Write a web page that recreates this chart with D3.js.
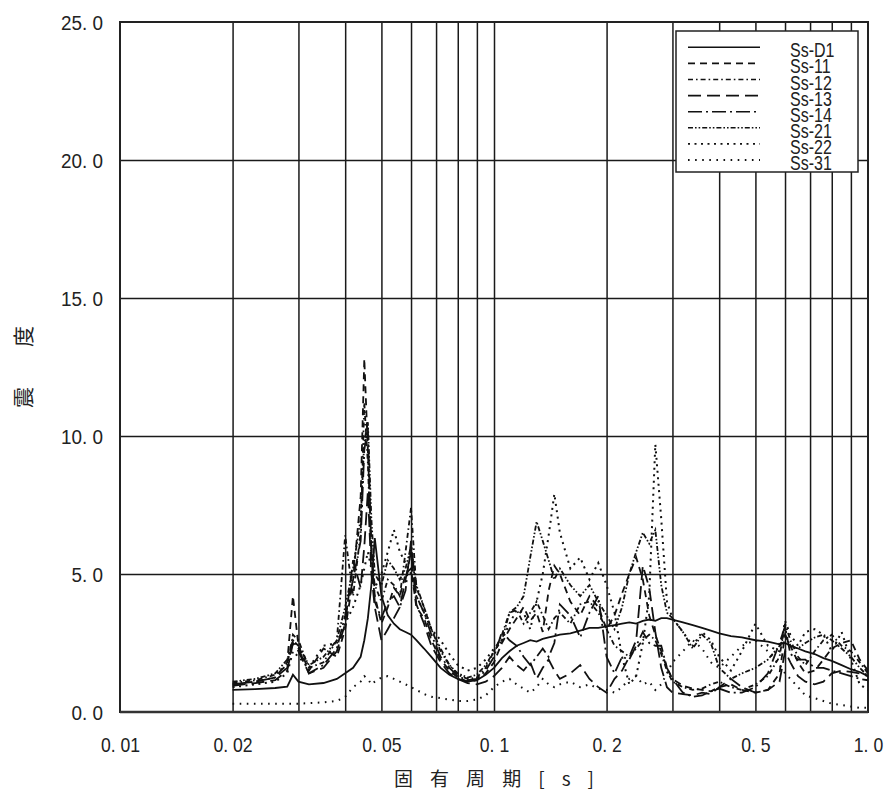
<!DOCTYPE html>
<html><head><meta charset="utf-8">
<script src="https://cdn.jsdelivr.net/npm/d3@7"></script>
<style>body{margin:0;background:#fff}</style>
</head><body>
<svg id="c" width="888" height="794"></svg>
<script>
// ---- data ----
const periods = [0.020,0.023,0.026,0.028,0.029,0.030,0.032,0.035,0.038,0.040,
  0.042,0.044,0.045,0.046,0.047,0.048,0.050,0.052,0.054,0.056,
  0.058,0.060,0.062,0.065,0.068,0.072,0.076,0.080,0.085,0.090,
  0.095,0.100,0.105,0.110,0.115,0.120,0.125,0.130,0.135,0.140,
  0.145,0.150,0.160,0.170,0.180,0.190,0.200,0.210,0.220,0.230,
  0.240,0.250,0.260,0.270,0.280,0.290,0.300,0.320,0.340,0.360,
  0.380,0.400,0.430,0.460,0.500,0.540,0.580,0.600,0.620,0.650,
  0.680,0.720,0.760,0.800,0.850,0.900,0.950,1.000];

const ssD1 = [0.80,0.83,0.87,0.92,1.35,1.10,1.00,1.05,1.20,1.40,
  1.60,2.00,2.60,3.40,4.60,6.30,4.20,3.50,3.20,3.00,
  2.90,2.80,2.60,2.30,2.00,1.60,1.35,1.20,1.10,1.15,
  1.35,1.60,1.95,2.20,2.40,2.50,2.60,2.55,2.65,2.70,
  2.75,2.80,2.85,2.95,3.05,3.05,3.10,3.15,3.20,3.25,
  3.20,3.30,3.35,3.30,3.40,3.40,3.35,3.25,3.15,3.05,
  2.95,2.85,2.75,2.70,2.60,2.55,2.45,2.50,2.40,2.30,
  2.20,2.10,1.95,1.85,1.70,1.55,1.45,1.30];

const ss11 = [1.00,1.10,1.25,1.80,4.20,2.40,1.50,2.30,2.00,3.00,
  4.80,7.80,12.8,9.50,6.00,4.20,3.20,3.80,4.50,4.20,
  5.00,5.20,3.80,3.40,2.60,1.90,1.50,1.25,1.10,1.15,
  1.40,1.80,2.50,3.00,3.40,3.80,3.30,3.60,2.90,4.40,
  5.30,5.00,4.00,3.50,4.20,3.80,3.00,3.50,4.30,5.00,
  5.60,4.80,3.50,2.80,2.20,1.60,1.20,0.95,0.85,0.80,
  0.75,0.90,1.00,0.80,0.70,0.80,1.40,2.80,2.40,1.80,
  1.40,1.50,1.90,2.30,2.50,2.60,1.90,1.50];

const ss12 = [1.05,1.15,1.35,1.70,2.80,2.60,1.60,1.80,2.60,6.40,
  4.20,6.50,11.2,9.00,5.50,4.60,4.00,4.80,4.60,4.20,
  5.80,7.40,4.50,3.80,3.00,2.30,1.70,1.35,1.20,1.25,
  1.60,2.20,2.80,3.60,3.70,3.20,3.60,4.00,3.50,3.00,
  3.40,3.60,3.20,3.90,4.00,3.60,3.00,2.40,2.20,2.00,
  2.30,2.60,2.80,2.60,2.10,1.50,1.10,0.90,0.80,0.85,
  1.00,1.10,0.90,0.80,1.00,1.30,2.00,3.20,2.60,2.00,
  1.70,2.20,2.60,2.80,2.40,2.20,1.80,1.40];

const ss13 = [0.95,1.05,1.15,1.50,2.50,2.20,1.40,1.60,2.20,3.20,
  5.50,4.50,6.00,8.00,5.00,3.80,2.60,3.00,3.40,3.80,
  4.80,5.80,3.90,3.20,2.40,1.80,1.40,1.20,1.05,1.00,
  1.10,1.30,1.60,2.00,1.70,1.50,1.80,1.20,1.60,1.90,
  1.50,1.20,1.40,1.70,1.20,0.90,0.70,1.20,1.50,2.00,
  2.60,5.30,4.50,2.90,1.60,0.90,0.70,0.65,0.60,0.70,
  0.65,0.90,1.20,0.90,0.70,0.80,1.10,2.20,1.80,1.30,
  1.10,1.00,1.10,1.40,1.50,1.45,1.40,1.30];

const ss14 = [1.00,1.10,1.25,1.60,2.60,2.30,1.40,1.70,2.30,3.50,
  4.80,6.20,9.50,10.3,5.80,4.00,3.40,4.00,4.20,3.80,
  4.40,6.20,4.20,3.60,2.80,2.00,1.60,1.30,1.15,1.20,
  1.50,2.00,2.90,2.60,2.40,2.00,1.70,2.00,2.30,2.00,
  2.50,3.90,3.50,2.70,3.60,4.20,2.00,1.40,2.00,1.90,
  2.40,2.90,2.50,2.40,2.40,1.60,1.20,0.70,0.55,0.60,
  0.75,0.85,0.70,0.70,0.90,1.40,2.50,3.10,2.10,1.90,
  1.90,1.60,1.60,1.50,1.40,1.30,1.20,1.15];

const ss21 = [1.10,1.20,1.40,1.90,2.60,2.40,1.70,2.00,2.60,3.80,
  5.20,7.00,9.80,10.5,7.00,5.00,4.60,5.50,5.20,4.80,
  5.20,6.00,4.60,3.80,3.00,2.20,1.70,1.40,1.25,1.35,
  1.70,2.20,2.60,3.60,3.80,4.20,5.60,6.90,6.20,5.50,
  4.80,5.20,4.60,4.20,4.60,4.00,3.50,3.00,3.80,5.00,
  5.80,6.50,6.10,6.60,4.60,3.60,3.40,2.90,2.30,2.80,
  2.50,1.60,1.20,1.40,1.60,1.90,2.40,2.80,2.40,2.30,
  2.50,2.70,2.80,2.60,2.30,2.00,1.60,1.30];

const ss22 = [0.90,1.00,1.10,1.40,2.20,2.00,1.60,2.40,2.50,3.20,
  3.80,4.60,5.20,5.80,5.20,4.50,5.00,5.80,6.60,5.80,
  5.40,5.00,4.20,3.60,3.00,2.60,2.10,1.70,1.50,1.60,
  1.90,2.30,2.60,3.20,3.70,3.60,3.00,4.00,5.00,6.40,
  7.90,6.50,5.20,5.60,4.80,5.40,4.60,3.60,2.00,1.00,
  1.30,2.50,4.20,9.70,7.00,4.00,3.40,2.90,2.40,2.90,
  2.60,2.00,1.50,2.20,3.20,2.40,2.20,3.30,2.80,2.40,
  2.90,3.00,2.80,2.20,2.90,1.90,1.00,0.80];

const ss31 = [0.30,0.30,0.30,0.30,0.30,0.30,0.32,0.35,0.40,0.55,
  0.90,1.10,1.30,1.20,1.00,1.10,1.25,1.30,1.20,1.10,
  1.00,0.90,0.80,0.65,0.55,0.50,0.45,0.40,0.40,0.45,
  0.60,0.90,1.10,1.20,1.00,0.85,0.70,0.90,1.20,1.00,
  0.90,1.00,1.10,0.90,1.00,0.85,0.80,0.70,0.90,1.20,
  1.30,1.00,1.10,0.80,1.00,1.40,1.80,2.20,2.60,2.30,
  1.80,1.60,2.00,2.40,2.60,2.20,1.70,1.40,1.20,0.90,
  0.60,0.50,0.40,0.30,0.25,0.20,0.15,0.15];

const seriesNames = ["Ss-D1","Ss-11","Ss-12","Ss-13","Ss-14","Ss-21","Ss-22","Ss-31"];
const seriesValues = [ssD1, ss11, ss12, ss13, ss14, ss21, ss22, ss31];

const xTickValues = [0.01,0.02,0.05,0.1,0.2,0.5,1.0];
const xTickLabels = ["0. 01","0. 02","0. 05","0. 1","0. 2","0. 5","1. 0"];
const xGridValues = [0.02,0.03,0.04,0.05,0.06,0.07,0.08,0.09,0.1,0.2,0.3,0.4,0.5,0.6,0.7,0.8,0.9];
const yTickValues = [0,5,10,15,20,25];
const yTickLabels = ["0. 0","5. 0","10. 0","15. 0","20. 0","25. 0"];
const xTitle = "固 有 周 期 [ s ]";
const yTitle = "震　度";

// ---- styles ----
const dashes = ["none","7,5","5,3,1.6,3","13,6","14,4,2,4","5,2,1.6,2,1.6,2","2,4.5","1.6,5.5"];

// ---- chart ----
const L = 120, R = 868, T = 22, B = 712;
const svg = d3.select("#c");
const x = d3.scaleLog().domain([0.01, 1]).range([L, R]);
const y = d3.scaleLinear().domain([0, 25]).range([B, T]);

// grid
svg.append("g").attr("transform", `translate(0,${B})`)
  .call(d3.axisBottom(x).tickValues(xGridValues).tickSize(-(B - T)).tickFormat(""))
  .call(g => g.select(".domain").remove())
  .call(g => g.selectAll("line").attr("stroke", "#1a1a1a").attr("stroke-width", 1.5));
svg.append("g").attr("transform", `translate(${L},0)`)
  .call(d3.axisLeft(y).tickValues([5,10,15,20]).tickSize(-(R - L)).tickFormat(""))
  .call(g => g.select(".domain").remove())
  .call(g => g.selectAll("line").attr("stroke", "#1a1a1a").attr("stroke-width", 1.5));

// frame
svg.append("rect").attr("x", L).attr("y", T).attr("width", R - L).attr("height", B - T)
  .attr("fill", "none").attr("stroke", "#222").attr("stroke-width", 2);

// data
svg.append("clipPath").attr("id", "clip").append("rect")
  .attr("x", L).attr("y", T).attr("width", R - L).attr("height", B - T);
const line = d3.line().x(d => x(d[0])).y(d => y(d[1]));
const gData = svg.append("g").attr("clip-path", "url(#clip)");
seriesValues.forEach((vals, i) => {
  gData.append("path")
    .datum(periods.map((p, k) => [p, vals[k]]))
    .attr("d", line)
    .attr("fill", "none")
    .attr("stroke", "#111")
    .attr("stroke-width", i >= 6 ? 2 : 1.8)
    .attr("stroke-dasharray", dashes[i]);
});

// bottom axis line
svg.append("line").attr("x1", L).attr("x2", R).attr("y1", B).attr("y2", B)
  .attr("stroke", "#333").attr("stroke-width", 2.5);

// tick labels
const xAx = svg.append("g").attr("transform", `translate(0,${B})`)
  .call(d3.axisBottom(x).tickValues(xTickValues).tickSize(0)
    .tickFormat((d, i) => xTickLabels[i]).tickPadding(40));
xAx.select(".domain").remove();
xAx.selectAll(".tick text").attr("font-family", "Liberation Sans, Arial, sans-serif")
  .attr("font-size", 20).attr("fill", "#222").attr("dy", 0)
  .attr("transform", "scale(0.88,1)");

const yAx = svg.append("g").attr("transform", `translate(${L},0)`)
  .call(d3.axisLeft(y).tickValues(yTickValues).tickSize(0)
    .tickFormat((d, i) => yTickLabels[i]).tickPadding(17));
yAx.select(".domain").remove();
yAx.selectAll(".tick text").attr("font-family", "Liberation Sans, Arial, sans-serif")
  .attr("font-size", 21).attr("fill", "#222").attr("dy", "0.36em")
  .attr("transform", "scale(0.9,1)").attr("x", -17 / 0.9);

// titles
svg.append("text").attr("x", (L + R) / 2).attr("y", 786)
  .attr("text-anchor", "middle").attr("font-family", "Noto Sans CJK JP, sans-serif")
  .attr("font-size", 19).attr("fill", "#222")
  .attr("textLength", 200).attr("lengthAdjust", "spacing")
  .text(xTitle);
svg.append("text").attr("transform", `translate(31,${(T + B) / 2}) rotate(-90)`)
  .attr("text-anchor", "middle").attr("font-family", "Noto Sans CJK JP, sans-serif")
  .attr("font-size", 21).attr("fill", "#222")
  .attr("textLength", 82).attr("lengthAdjust", "spacing")
  .text(yTitle);

// legend
const lg = svg.append("g");
lg.append("rect").attr("x", 676).attr("y", 31).attr("width", 182).attr("height", 141)
  .attr("fill", "#fff").attr("stroke", "#222").attr("stroke-width", 1.5);
seriesNames.forEach((name, i) => {
  const ly = 47.3 + i * 16.1;
  lg.append("line").attr("x1", 688).attr("x2", 760).attr("y1", ly).attr("y2", ly)
    .attr("stroke", "#111").attr("stroke-width", i >= 6 ? 1.8 : 1.6)
    .attr("stroke-dasharray", dashes[i]);
  lg.append("text").attr("transform", `translate(790,${ly + 10}) scale(0.8,1)`)
    .attr("font-family", "Liberation Sans, Arial, sans-serif").attr("font-size", 20)
    .attr("fill", "#222").text(name);
});
</script>
</body></html>
